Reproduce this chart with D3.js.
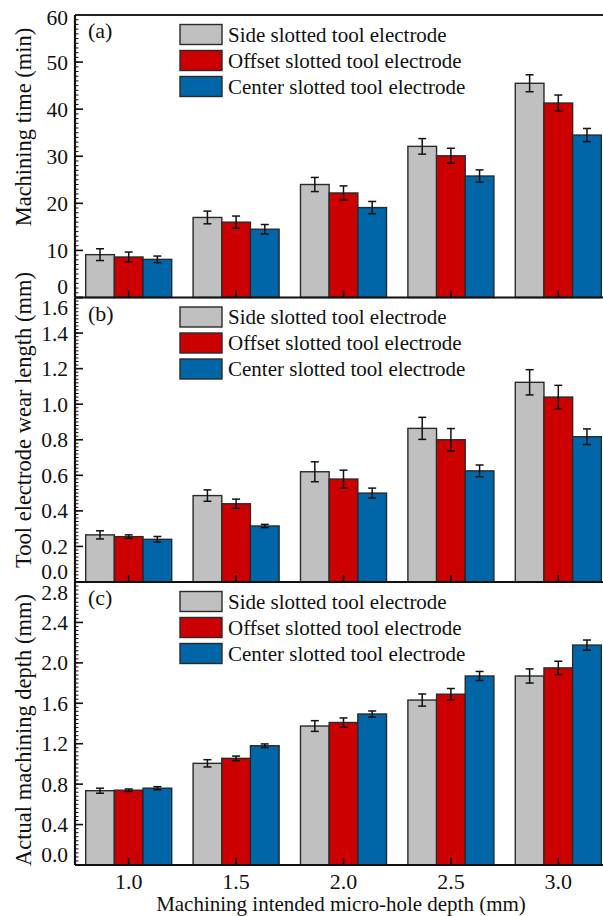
<!DOCTYPE html>
<html lang="en">
  <head>
    <meta charset="UTF-8" />
    <title>Machining time, wear and depth</title>
    <script src="https://d3js.org/d3.v7.min.js"></script>
    <style>
      body {
        margin: 0;
        padding: 0;
        background-color: #fff;
      }
      text {
        font-family: "Liberation Serif", "Times New Roman", serif;
        fill: #111;
      }
    </style>
  </head>
  <body>
    <div id="chart"></div>

    <script>
      const width = 603;
      const height = 916;

      // categories
      const depths = [1.0, 1.5, 2.0, 2.5, 3.0];
      const depthLabels = ["1.0", "1.5", "2.0", "2.5", "3.0"];
      const seriesNames = ["Side slotted tool electrode", "Offset slotted tool electrode", "Center slotted tool electrode"];
      const colors = ["#c0c0c0", "#cc0000", "#0066a8"];

      // (a) machining time (min)
      const timeSide = [9.1, 17.0, 24.0, 32.1, 45.5];
      const timeSideErr = [1.25, 1.35, 1.5, 1.65, 1.8];
      const timeOffset = [8.6, 16.0, 22.2, 30.1, 41.3];
      const timeOffsetErr = [1.05, 1.3, 1.5, 1.6, 1.7];
      const timeCenter = [8.1, 14.5, 19.1, 25.8, 34.5];
      const timeCenterErr = [0.7, 1.0, 1.3, 1.3, 1.4];
      const timeTicks = [0, 10, 20, 30, 40, 50, 60];

      // (b) tool electrode wear length (mm)
      const wearSide = [0.265, 0.486, 0.62, 0.864, 1.123];
      const wearSideErr = [0.023, 0.032, 0.056, 0.062, 0.071];
      const wearOffset = [0.255, 0.44, 0.579, 0.8, 1.04];
      const wearOffsetErr = [0.01, 0.026, 0.05, 0.063, 0.066];
      const wearCenter = [0.24, 0.315, 0.5, 0.625, 0.817];
      const wearCenterErr = [0.016, 0.009, 0.028, 0.033, 0.044];
      const wearTicks = [0, 0.2, 0.4, 0.6, 0.8, 1.0, 1.2, 1.4, 1.6];

      // (c) actual machining depth (mm)
      const depthSide = [0.735, 1.006, 1.375, 1.632, 1.87];
      const depthSideErr = [0.025, 0.036, 0.053, 0.06, 0.07];
      const depthOffset = [0.74, 1.055, 1.41, 1.69, 1.95];
      const depthOffsetErr = [0.012, 0.023, 0.045, 0.056, 0.066];
      const depthCenter = [0.76, 1.18, 1.494, 1.87, 2.176];
      const depthCenterErr = [0.015, 0.018, 0.03, 0.045, 0.05];
      const depthTicks = [0, 0.4, 0.8, 1.2, 1.6, 2.0, 2.4, 2.8];

      const panels = [
        { tag: "(a)", title: "Machining time (min)", top: 15, bottom: 297.5, max: 60, ticks: timeTicks, fmt: d3.format("d"), minor: 1,
          values: [timeSide, timeOffset, timeCenter], errs: [timeSideErr, timeOffsetErr, timeCenterErr], titleY: 127, topNudge: 2 },
        { tag: "(b)", title: "Tool electrode wear length (mm)", top: 297.5, bottom: 582, max: 1.6, ticks: wearTicks, fmt: d3.format(".1f"), minor: 0.02,
          values: [wearSide, wearOffset, wearCenter], errs: [wearSideErr, wearOffsetErr, wearCenterErr], titleY: 420, topNudge: 10 },
        { tag: "(c)", title: "Actual machining depth (mm)", top: 582, bottom: 865, max: 2.8, ticks: depthTicks, fmt: d3.format(".1f"), minor: 0.04,
          values: [depthSide, depthOffset, depthCenter], errs: [depthSideErr, depthOffsetErr, depthCenterErr], titleY: 730, topNudge: 10 },
      ];

      const left = 75;
      const right = 612;

      const svg = d3.select("#chart").append("svg").attr("width", width).attr("height", height);

      const x = d3.scaleLinear().domain([0.75, 3.25]).range([left, right]);
      const barW = x(1 + 0.1335) - x(1);

      panels.forEach(function (p) {
        const y = d3.scaleLinear().domain([0, p.max]).range([p.bottom, p.top]);
        const g = svg.append("g");

        // bars
        p.values.forEach(function (vals, s) {
          const off = (s - 1) * barW;
          g.selectAll(null)
            .data(vals)
            .enter()
            .append("rect")
            .attr("x", (d, i) => x(depths[i]) + off - barW / 2)
            .attr("y", (d) => y(d))
            .attr("width", barW)
            .attr("height", (d) => y(0) - y(d))
            .attr("fill", colors[s])
            .attr("stroke", "#2a2a2a")
            .attr("stroke-width", 1.4);

          // error bars
          const eb = g.selectAll(null)
            .data(vals.map((v, i) => ({ v: v, e: p.errs[s][i], cx: x(depths[i]) + off })))
            .enter()
            .append("g")
            .attr("stroke", "#111")
            .attr("stroke-width", 1.5);
          eb.append("line").attr("x1", (d) => d.cx).attr("x2", (d) => d.cx).attr("y1", (d) => y(d.v - d.e)).attr("y2", (d) => y(d.v + d.e));
          eb.append("line").attr("x1", (d) => d.cx - 4).attr("x2", (d) => d.cx + 4).attr("y1", (d) => y(d.v - d.e)).attr("y2", (d) => y(d.v - d.e));
          eb.append("line").attr("x1", (d) => d.cx - 4).attr("x2", (d) => d.cx + 4).attr("y1", (d) => y(d.v + d.e)).attr("y2", (d) => y(d.v + d.e));
        });

        // minor ticks
        const minors = d3.range(0, p.max + p.minor / 2, p.minor);
        g.selectAll(null)
          .data(minors)
          .enter()
          .append("line")
          .attr("x1", left)
          .attr("x2", left + 3.5)
          .attr("y1", (d) => y(d))
          .attr("y2", (d) => y(d))
          .attr("stroke", "#111")
          .attr("stroke-width", 1);

        // major ticks and labels
        g.selectAll(null)
          .data(p.ticks)
          .enter()
          .append("line")
          .attr("x1", left)
          .attr("x2", left + 8)
          .attr("y1", (d) => y(d))
          .attr("y2", (d) => y(d))
          .attr("stroke", "#111")
          .attr("stroke-width", 1.6);

        g.selectAll(null)
          .data(p.ticks)
          .enter()
          .append("text")
          .attr("x", left - 7)
          .attr("y", function (d, i) {
            let yy = y(d);
            if (i === 0) yy -= 11;
            if (i === p.ticks.length - 1) yy += p.topNudge;
            return yy;
          })
          .attr("dy", "0.35em")
          .attr("text-anchor", "end")
          .attr("font-size", 21.5)
          .text((d) => p.fmt(d));

        // x ticks at the bottom, pointing up
        g.selectAll(null)
          .data(depths)
          .enter()
          .append("line")
          .attr("x1", (d) => x(d))
          .attr("x2", (d) => x(d))
          .attr("y1", p.bottom)
          .attr("y2", p.bottom - 7)
          .attr("stroke", "#111")
          .attr("stroke-width", 1.6);

        // frame
        g.append("line").attr("x1", left).attr("x2", right).attr("y1", p.bottom).attr("y2", p.bottom).attr("stroke", "#111").attr("stroke-width", 2.2);
        g.append("line").attr("x1", left).attr("x2", left).attr("y1", p.top).attr("y2", p.bottom).attr("stroke", "#111").attr("stroke-width", 2.2);
        g.append("line").attr("x1", right).attr("x2", right).attr("y1", p.top).attr("y2", p.bottom).attr("stroke", "#111").attr("stroke-width", 2.2);

        // panel tag
        g.append("text").attr("x", 88).attr("y", p.top + 23).attr("font-size", 22).text(p.tag);

        // y title
        g.append("text")
          .attr("transform", `translate(23,${p.titleY}) rotate(-90)`)
          .attr("text-anchor", "middle")
          .attr("dy", "0.35em")
          .attr("font-size", 22.5)
          .text(p.title);

        // legend
        const lg = g.append("g").attr("transform", `translate(180,${p.top + 9.5})`);
        seriesNames.forEach(function (name, s) {
          lg.append("rect")
            .attr("x", 0)
            .attr("y", s * 26)
            .attr("width", 42)
            .attr("height", 20)
            .attr("fill", colors[s])
            .attr("stroke", "#2a2a2a")
            .attr("stroke-width", 1.4);
          lg.append("text")
            .attr("x", 48)
            .attr("y", s * 26 + 10)
            .attr("dy", "0.35em")
            .attr("font-size", 21)
            .text(name);
        });
      });

      // top border
      svg.append("line").attr("x1", left).attr("x2", right).attr("y1", 15).attr("y2", 15).attr("stroke", "#222").attr("stroke-width", 2.2);

      // x tick labels and title
      svg.selectAll(null)
        .data(depths)
        .enter()
        .append("text")
        .attr("x", (d) => x(d))
        .attr("y", 881)
        .attr("dy", "0.35em")
        .attr("text-anchor", "middle")
        .attr("font-size", 22)
        .text((d, i) => depthLabels[i]);

      svg.append("text")
        .attr("x", 341)
        .attr("y", 904)
        .attr("dy", "0.35em")
        .attr("text-anchor", "middle")
        .attr("font-size", 21)
        .text("Machining intended micro-hole depth (mm)");
    </script>
  </body>
</html>
